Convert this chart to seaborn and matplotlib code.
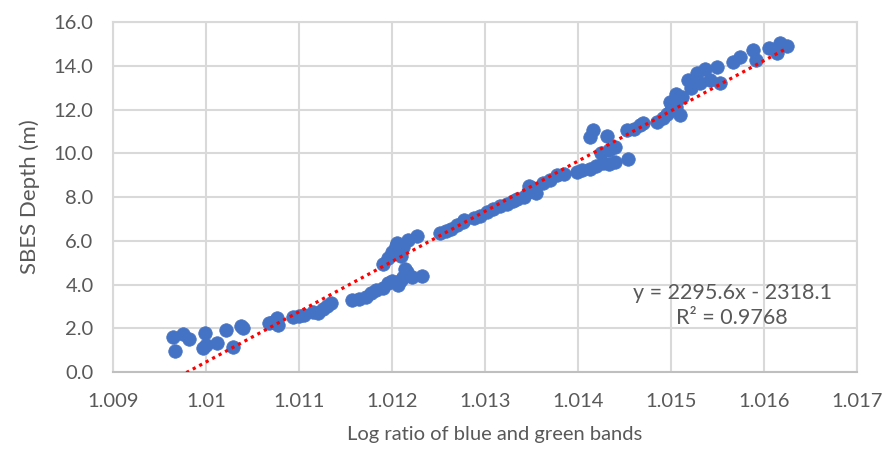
import numpy as np
import pandas as pd
import matplotlib
matplotlib.use("Agg")
import matplotlib.pyplot as plt
import seaborn as sns

# values
log_ratio = [
    1.00965, 1.00967, 1.00975, 1.00982, 1.00999, 1.00997, 1.01000, 1.01012,
    1.01022, 1.01029, 1.01038, 1.01040,
    1.01068, 1.01072, 1.01076, 1.01078, 1.01094, 1.01100, 1.01106, 1.01115,
    1.01120, 1.01126, 1.01130, 1.01134,
    1.01157, 1.01165, 1.01172, 1.01178, 1.01183, 1.01190, 1.01196, 1.01200,
    1.01207, 1.01212, 1.01216, 1.01222, 1.01232, 1.01210,
    1.01190, 1.01196, 1.01200, 1.01204, 1.01206, 1.01212, 1.01217, 1.01227,
    1.01210, 1.01214,
    1.01252, 1.01258, 1.01264, 1.01270, 1.01276, 1.01278, 1.01288, 1.01295,
    1.01302, 1.01309, 1.01316, 1.01324, 1.01330, 1.01335, 1.01342, 1.01346,
    1.01348, 1.01352, 1.01355, 1.01362, 1.01370, 1.01378, 1.01385,
    1.01399, 1.01405, 1.01413, 1.01420, 1.01427, 1.01433, 1.01440, 1.01434,
    1.01425, 1.01413, 1.01416, 1.01431, 1.01440, 1.01454, 1.01453, 1.01460,
    1.01467, 1.01470, 1.01485, 1.01492, 1.01496, 1.01500, 1.01499, 1.01506,
    1.01510, 1.01506, 1.01512, 1.01518, 1.01522, 1.01528, 1.01531, 1.01537,
    1.01542, 1.01550, 1.01553, 1.01567, 1.01574, 1.01588, 1.01592, 1.01606,
    1.01614, 1.01617, 1.01625,
]
depth = [
    1.60, 0.96, 1.75, 1.50, 1.78, 1.10, 1.25, 1.33,
    1.92, 1.15, 2.10, 2.00,
    2.25, 2.30, 2.45, 2.15, 2.50, 2.55, 2.60, 2.75,
    2.70, 2.90, 3.00, 3.15,
    3.30, 3.35, 3.45, 3.60, 3.75, 3.85, 4.05, 4.15,
    4.00, 4.35, 4.55, 4.35, 4.40, 4.20,
    4.95, 5.20, 5.50, 5.75, 5.90, 5.70, 6.05, 6.20,
    5.30, 4.70,
    6.35, 6.45, 6.55, 6.70, 6.85, 6.95, 7.05, 7.15,
    7.30, 7.45, 7.60, 7.70, 7.80, 7.90, 8.00, 8.25,
    8.50, 8.40, 8.20, 8.65, 8.80, 9.00, 9.05,
    9.15, 9.25, 9.30, 9.40, 9.55, 9.50, 9.60, 10.15,
    10.00, 10.75, 11.05, 10.80, 10.30, 9.75, 11.05, 11.10,
    11.30, 11.40, 11.45, 11.60, 11.80, 12.00, 12.35, 12.10,
    11.75, 12.70, 12.55, 13.35, 13.00, 13.65, 13.20, 13.85,
    13.35, 13.95, 13.20, 14.15, 14.40, 14.70, 14.25, 14.80,
    14.60, 15.05, 14.90,
]

# printed trendline
slope = 2295.6
intercept = -2318.1
r_squared = 0.9768

x_ticks = [1.009, 1.010, 1.011, 1.012, 1.013, 1.014, 1.015, 1.016, 1.017]
x_tick_labels = ["1.009", "1.01", "1.011", "1.012", "1.013", "1.014", "1.015", "1.016", "1.017"]
y_ticks = [0, 2, 4, 6, 8, 10, 12, 14, 16]

df = pd.DataFrame({"ratio": log_ratio, "depth": depth})

sns.set_theme(style="white")
plt.rcParams["font.family"] = ["Lato", "DejaVu Sans"]
text_col = "#595959"
grid_col = "#d9d9d9"

fig, ax = plt.subplots(figsize=(8.86, 4.54), dpi=100)
fig.subplots_adjust(left=0.1275, right=0.967, top=0.9515, bottom=0.1806)

# trendline over data range
trend_x = np.array([df["ratio"].min(), df["ratio"].max()])
trend = pd.DataFrame({"ratio": trend_x, "depth": slope * trend_x + intercept})

sns.scatterplot(data=df, x="ratio", y="depth", ax=ax, s=95, color="#4472C4",
                edgecolor="#4472C4", linewidth=0.5, zorder=3)
ax.plot(trend["ratio"], trend["depth"], color="#FF0000", lw=2.3,
        linestyle=(0, (1, 1.3)), zorder=4)

ax.set_xlim(1.009, 1.017)
ax.set_ylim(0, 16)
ax.set_xticks(x_ticks)
ax.set_xticklabels(x_tick_labels)
ax.set_yticks(y_ticks)
ax.set_yticklabels([f"{v:.1f}" for v in y_ticks])
ax.grid(True, color=grid_col, linewidth=1.5)
ax.set_axisbelow(True)
for side in ["left", "top", "right"]:
    ax.spines[side].set_color(grid_col)
    ax.spines[side].set_linewidth(1.5)
ax.spines["bottom"].set_color("#bfbfbf")
ax.spines["bottom"].set_linewidth(1.5)

ax.tick_params(axis="both", length=0, labelsize=14.5, colors=text_col)
ax.tick_params(axis="y", pad=14)
ax.tick_params(axis="x", pad=15)

ax.set_xlabel("Log ratio of blue and green bands", fontsize=14.5, color=text_col)
ax.xaxis.set_label_coords(0.513, -0.155)
ax.set_ylabel("SBES Depth (m)", fontsize=16, color=text_col, labelpad=10)

ax.text(1.01566, 3.6, f"y = {slope}x - {abs(intercept)}", fontsize=15.5,
        color=text_col, ha="center", va="center")
ax.text(1.01566, 2.45, f"R² = {r_squared}", fontsize=15.5,
        color=text_col, ha="center", va="center")

fig.savefig("out.png", dpi=100)
